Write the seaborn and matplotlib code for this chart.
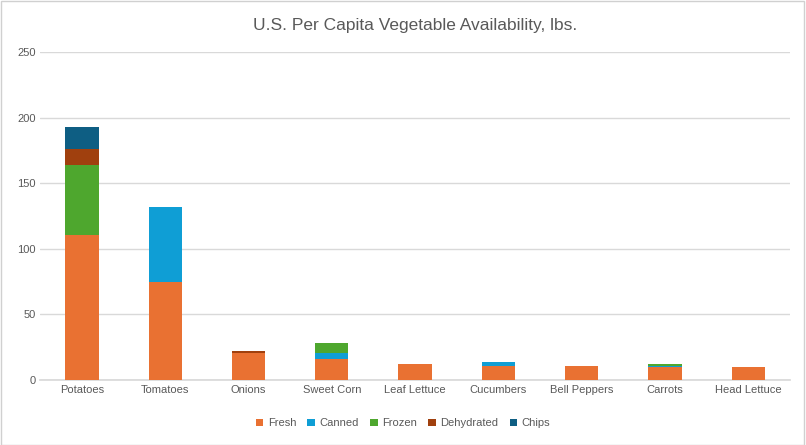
import numpy as np
import matplotlib
matplotlib.use("Agg")
import matplotlib.pyplot as plt
import seaborn as sns

vegetables = ["Potatoes", "Tomatoes", "Onions", "Sweet Corn", "Leaf Lettuce",
              "Cucumbers", "Bell Peppers", "Carrots", "Head Lettuce"]
fresh = [110.5, 75.0, 20.6, 16.0, 12.2, 10.7, 10.7, 10.0, 10.0]
canned = [0, 57.0, 0, 4.6, 0, 3.0, 0, 0.8, 0]
frozen = [53.3, 0, 0, 7.6, 0, 0, 0, 1.4, 0]
dehydrated = [12.2, 0, 1.5, 0, 0, 0, 0, 0, 0]
chips = [16.8, 0, 0, 0, 0, 0, 0, 0, 0]

series = [("Fresh", fresh, "#E97132"), ("Canned", canned, "#0F9ED5"),
          ("Frozen", frozen, "#4EA72E"), ("Dehydrated", dehydrated, "#A0400E"),
          ("Chips", chips, "#0E5E83")]

sns.set_theme(style="white")
plt.rcParams["font.family"] = ["Liberation Sans", "DejaVu Sans"]

fig = plt.figure(figsize=(8.06, 4.45), dpi=100)
ax = fig.add_axes([0.05, 0.146, 0.93, 0.737])
fig.patches.append(plt.Rectangle((0.001, 0.001), 0.997, 0.997, transform=fig.transFigure,
                                 fill=False, edgecolor="#D0D0D0", linewidth=1))

x = np.arange(len(vegetables))
bottom = np.zeros(len(vegetables))
for name, vals, color in series:
    vals = np.array(vals)
    ax.bar(x, vals, bottom=bottom, width=0.4, color=color, label=name,
           linewidth=0, zorder=3)
    bottom += vals

ax.set_ylim(0, 250)
ax.set_yticks(range(0, 251, 50))
ax.set_xlim(-0.5, len(vegetables) - 0.5)
ax.set_xticks(x)
ax.set_xticklabels(vegetables)
ax.tick_params(axis="both", labelsize=8, colors="#595959", length=0)
ax.grid(axis="y", color="#D9D9D9", linewidth=1, zorder=0)
for s in ["top", "right", "left"]:
    ax.spines[s].set_visible(False)
ax.spines["bottom"].set_color("#D9D9D9")

ax.set_title("U.S. Per Capita Vegetable Availability, lbs.", fontsize=12.5,
             color="#595959", pad=16)
fig.legend(loc="lower center", ncol=5, frameon=False, fontsize=8,
           bbox_to_anchor=(0.5, 0.015), handlelength=0.7, handleheight=0.7,
           columnspacing=1.0, handletextpad=0.4, labelcolor="#595959")

fig.savefig("out.png", dpi=100)
